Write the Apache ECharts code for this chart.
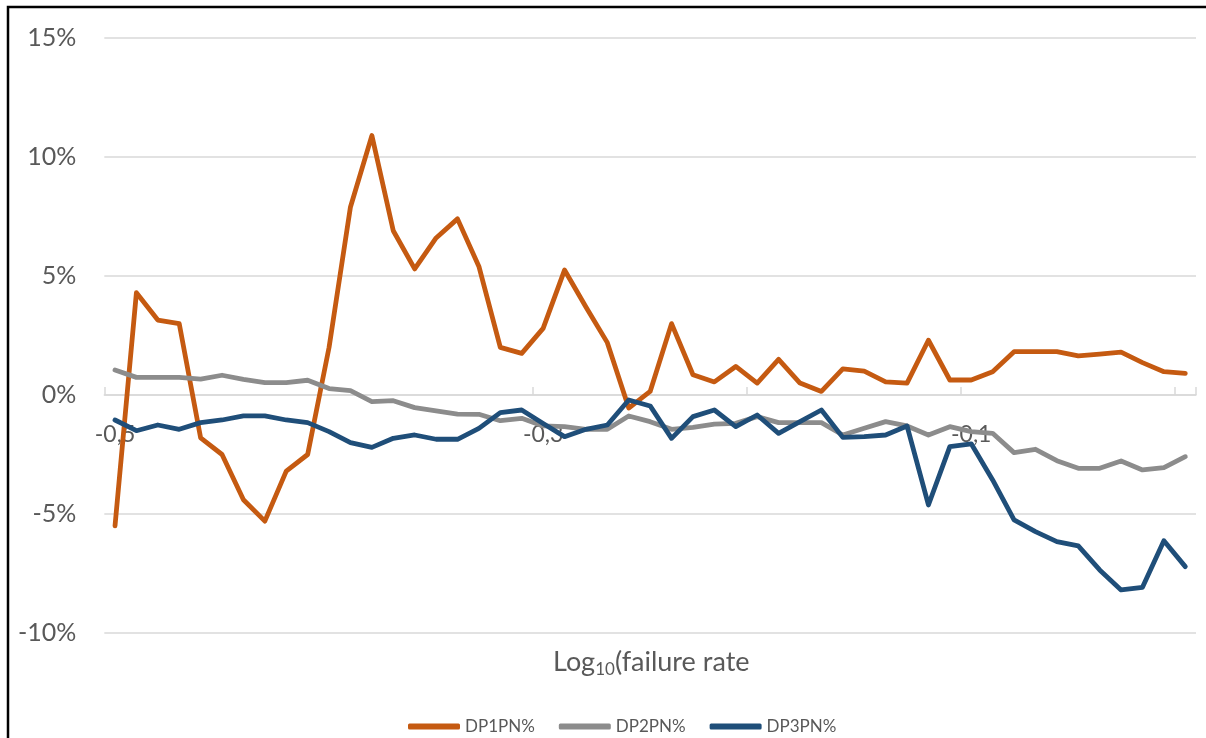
<!DOCTYPE html>
<html>
<head>
<meta charset="utf-8">
<script src="https://cdn.jsdelivr.net/npm/echarts@6/dist/echarts.min.js"></script>
<style>
html,body{margin:0;padding:0;background:#fff;}
#chart{width:1206px;height:738px;}
</style>
</head>
<body>
<div id="chart"></div>
<script>
// log10(failure rate) categories
var categories = ["-0,5","-0,49","-0,48","-0,47","-0,46","-0,45","-0,44","-0,43","-0,42","-0,41",
  "-0,4","-0,39","-0,38","-0,37","-0,36","-0,35","-0,34","-0,33","-0,32","-0,31",
  "-0,3","-0,29","-0,28","-0,27","-0,26","-0,25","-0,24","-0,23","-0,22","-0,21",
  "-0,2","-0,19","-0,18","-0,17","-0,16","-0,15","-0,14","-0,13","-0,12","-0,11",
  "-0,1","-0,09","-0,08","-0,07","-0,06","-0,05","-0,04","-0,03","-0,02","-0,01","0"];
var seriesNames = ["DP1PN%","DP2PN%","DP3PN%"];
// values in %
var dp1 = [-5.5,4.3,3.15,3.0,-1.8,-2.5,-4.4,-5.3,-3.2,-2.5,
  2.0,7.9,10.9,6.9,5.3,6.6,7.4,5.4,2.0,1.75,
  2.8,5.25,3.7,2.2,-0.55,0.15,3.0,0.85,0.55,1.2,
  0.5,1.5,0.5,0.15,1.1,1.0,0.55,0.5,2.3,0.63,
  0.63,0.98,1.82,1.82,1.82,1.64,1.72,1.8,1.36,0.98,0.91];
var dp2 = [1.05,0.74,0.74,0.74,0.67,0.83,0.66,0.52,0.52,0.62,
  0.27,0.18,-0.28,-0.24,-0.53,-0.67,-0.8,-0.81,-1.08,-0.98,
  -1.3,-1.33,-1.44,-1.44,-0.88,-1.12,-1.44,-1.36,-1.22,-1.19,
  -0.91,-1.16,-1.16,-1.16,-1.68,-1.4,-1.12,-1.3,-1.68,-1.33,
  -1.54,-1.61,-2.42,-2.28,-2.76,-3.08,-3.08,-2.77,-3.15,-3.05,-2.59];
var dp3 = [-1.05,-1.5,-1.26,-1.44,-1.16,-1.05,-0.88,-0.88,-1.05,-1.16,
  -1.54,-2.0,-2.2,-1.82,-1.68,-1.86,-1.86,-1.4,-0.74,-0.63,
  -1.2,-1.75,-1.44,-1.26,-0.21,-0.46,-1.82,-0.91,-0.63,-1.33,
  -0.84,-1.61,-1.12,-0.63,-1.78,-1.75,-1.68,-1.3,-4.62,-2.17,
  -2.05,-3.57,-5.25,-5.74,-6.16,-6.34,-7.35,-8.19,-8.08,-6.12,-7.21];
var yMin = -10, yMax = 15, yStep = 5;
var colors = ["#C55A11","#8C8C8C","#1F4E79"];

var font = "Lato, 'Noto Sans', sans-serif";
var chart = echarts.init(document.getElementById('chart'), null, {renderer:'canvas'});
function mk(name, data, color){
  return {
    name: name, type: 'line', data: data, showSymbol: false, symbol: 'none',
    smooth: false, color: color,
    lineStyle: {width: 4.8, color: color, cap: 'round', join: 'round'}
  };
}
chart.setOption({
  animation: false,
  textStyle: {fontFamily: font},
  grid: {left: 104.3, right: 10, top: 38, bottom: 105, containLabel: false},
  title: {
    text: '{a|Log}{b|10}{a|(failure rate}',
    left: 548, top: 641,
    textStyle: {
      fontWeight: 'normal',
      rich: {
        a: {fontFamily: font, fontSize: 27, fontWeight: 'normal', color: '#595959', lineHeight: 32},
        b: {fontFamily: font, fontSize: 17, fontWeight: 'normal', color: '#595959', lineHeight: 15, verticalAlign: 'bottom'}
      }
    }
  },
  legend: {
    data: seriesNames, left: 403, top: 713, icon: 'roundRect',
    itemWidth: 52, itemHeight: 6, itemGap: 24,
    textStyle: {fontFamily: font, fontSize: 17, color: '#595959'}
  },
  xAxis: {
    type: 'category', data: categories, boundaryGap: true,
    position: 'bottom', offset: -238,
    axisLine: {onZero: false, lineStyle: {color: '#d9d9d9', width: 1.5}},
    axisTick: {show: true, interval: 9, inside: true, length: 8, lineStyle: {color: '#d9d9d9', width: 1.5}},
    axisLabel: {interval: 19, margin: 28, fontSize: 23, color: '#595959', fontFamily: font},
    splitLine: {show: false}
  },
  yAxis: {
    type: 'value', min: yMin, max: yMax, interval: yStep,
    axisLine: {show: false}, axisTick: {show: false},
    axisLabel: {formatter: '{value}%', fontSize: 25, color: '#595959', margin: 28, fontFamily: font},
    splitLine: {lineStyle: {color: '#d9d9d9', width: 1.5}}
  },
  series: [mk(seriesNames[0], dp1, colors[0]), mk(seriesNames[1], dp2, colors[1]), mk(seriesNames[2], dp3, colors[2])],
  graphic: [{
    type: 'rect', z: 100, silent: true,
    shape: {x: 8, y: 7, width: 1300, height: 800},
    style: {fill: 'none', stroke: '#000', lineWidth: 2.5}
  }]
});
</script>
</body>
</html>
